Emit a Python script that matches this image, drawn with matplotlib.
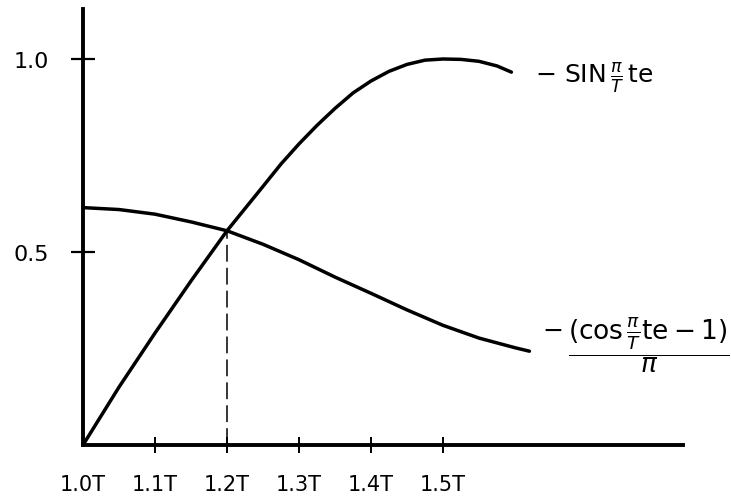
import matplotlib
matplotlib.use("Agg")
import matplotlib.pyplot as plt

# data (te in units of T)
sin_x = [1.0, 1.05, 1.1, 1.15, 1.2, 1.25, 1.275, 1.3, 1.325, 1.35, 1.375, 1.4, 1.425,
         1.45, 1.475, 1.5, 1.525, 1.55, 1.575, 1.595]
sin_y = [0.0, 0.15, 0.29, 0.425, 0.555, 0.67, 0.728, 0.78, 0.828, 0.872, 0.912, 0.943,
         0.968, 0.986, 0.997, 1.0, 0.999, 0.994, 0.982, 0.966]

cos_x = [1.0, 1.05, 1.1, 1.15, 1.2, 1.25, 1.3, 1.35, 1.4, 1.45, 1.5, 1.55, 1.6, 1.62]
cos_y = [0.615, 0.61, 0.598, 0.578, 0.555, 0.52, 0.48, 0.435, 0.393, 0.35, 0.31, 0.277, 0.252, 0.243]

cross_x = 1.2
cross_y = 0.555

x_ticks = [1.0, 1.1, 1.2, 1.3, 1.4, 1.5]
x_tick_labels = ["1.0T", "1.1T", "1.2T", "1.3T", "1.4T", "1.5T"]
y_ticks = [0.5, 1.0]
y_tick_labels = ["0.5", "1.0"]

W, H = 731, 502
fig = plt.figure(figsize=(W / 100, H / 100), dpi=100)
ax = fig.add_axes([83 / W, (H - 446) / H, (683 - 83) / W, (446 - 10) / H])
ax.set_xlim(1.0, 1.0 + 600 / 720)
ax.set_ylim(0, (446 - 10) / 386)

lw = 2.5
ax.plot(sin_x, sin_y, color="black", lw=lw, solid_capstyle="round",
        solid_joinstyle="round", clip_on=False)
ax.plot(cos_x, cos_y, color="black", lw=lw, solid_capstyle="round",
        solid_joinstyle="round", clip_on=False)
ax.plot([cross_x, cross_x], [0, cross_y], color="black", lw=1.1,
        linestyle=(0, (11, 4)))

for s in ["top", "right"]:
    ax.spines[s].set_visible(False)
for s in ["left", "bottom"]:
    ax.spines[s].set_linewidth(2.8)

ax.set_yticks(y_ticks)
ax.set_yticklabels(y_tick_labels, fontsize=16)
ax.tick_params(axis="y", direction="inout", length=17, width=1.6, pad=16)

ax.set_xticks(x_ticks)
ax.set_xticklabels(x_tick_labels, fontsize=15)
ax.tick_params(axis="x", direction="inout", length=12, width=1.4, pad=15)
ax.xaxis.get_major_ticks()[0].tick1line.set_visible(False)

ax.text(1.628, 0.953, r"$-\ \mathrm{SIN}\,\frac{\pi}{T}\,\mathrm{te}$", fontsize=18,
        ha="left", va="center")
ax.text(1.637, 0.3, r"$-$", fontsize=18, ha="left", va="center")
ax.text(1.786, 0.262, r"$\dfrac{(\mathrm{cos}\,\frac{\pi}{T}\mathrm{te}-1)}{\pi}$",
        fontsize=19, ha="center", va="center", clip_on=False)

fig.savefig("out.png", dpi=100)
